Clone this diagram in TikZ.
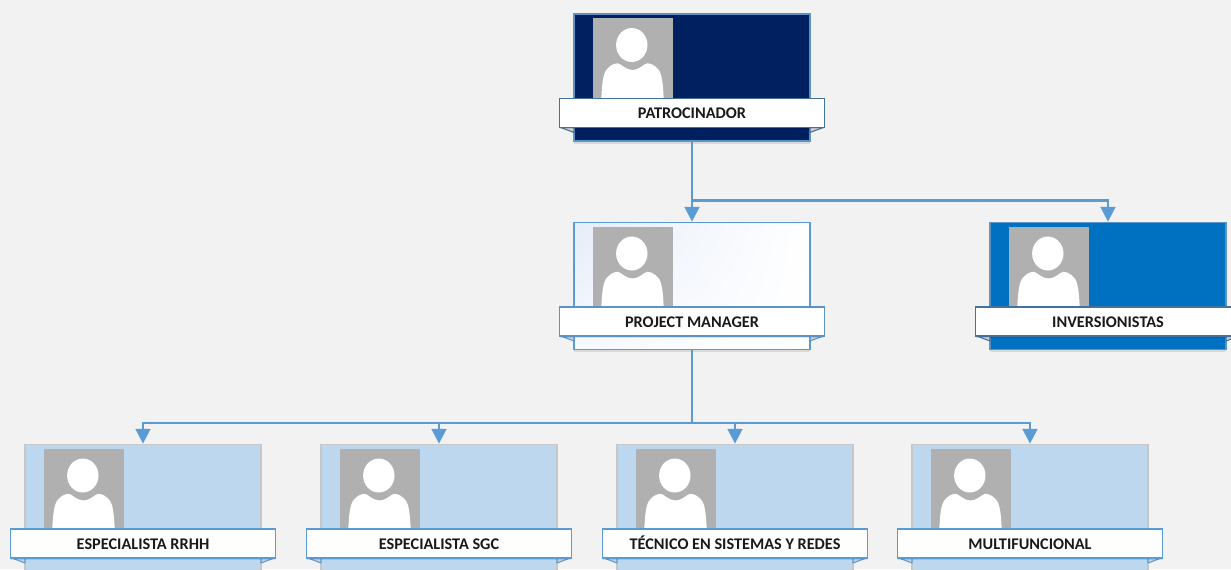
\documentclass[tikz,border=0pt]{standalone}
\usepackage{fontspec}
\setmainfont{Carlito}
\usetikzlibrary{arrows.meta,shadows,shadings}
\definecolor{bg}{HTML}{F2F2F2}
\definecolor{navy}{HTML}{002060}
\definecolor{midblue}{HTML}{0070C0}
\definecolor{paleblue}{HTML}{BDD7EE}
\definecolor{linkblue}{HTML}{5B9BD5}
\definecolor{photogray}{HTML}{B0B0B0}
\definecolor{darkedge}{HTML}{41719C}
\definecolor{softedge}{HTML}{5B93C7}
\definecolor{tailgray}{HTML}{D0D0D0}
\definecolor{tintA}{HTML}{E6EDF9}
\definecolor{tintB}{HTML}{F6F9FE}
\tikzset{
  x=0.75pt,y=-0.75pt,
  cardbox/.style={rectangle,inner sep=0pt,minimum width=177pt,minimum height=95.5pt,line width=1.1pt,
     general shadow={fill=black,opacity=.10,shadow xshift=0pt,shadow yshift=-2pt}},
  navycard/.style={cardbox,fill=navy,draw=softedge},
  bluecard/.style={cardbox,fill=midblue,draw=softedge},
  whitecard/.style={cardbox,draw=linkblue,upper left=tintA,upper right=white,lower left=tintB,lower right=white},
  palecard/.style={cardbox,fill=paleblue,draw=black!22},
  banner/.style={rectangle,inner sep=0pt,minimum width=198.5pt,minimum height=21.5pt,fill=white,line width=1.1pt,
     text height=8.8pt,text depth=0pt,
     font=\fontsize{12.2}{14}\selectfont\bfseries,text=black!90,
     general shadow={fill=black,opacity=.10,shadow xshift=0pt,shadow yshift=-1.5pt}},
  tail/.style={fill=tailgray,line width=.8pt,line join=round},
  link/.style={draw=linkblue,line width=1.9pt},
  linkarrow/.style={link,-{Triangle[length=11pt,width=11pt]}},
  photo/.style={fill=photogray,draw=none}
}
% #1 id, #2 x, #3 y, #4 card style, #5 banner edge colour, #6 label
\newcommand{\personcard}[6]{%
  \begin{scope}[shift={(#2,#3)}]
    \node[#4] (#1) at (118,63.5) {};
    \fill[photo] (19,4) rectangle (99,84.5);
    \fill[white] (57.8,31) ellipse [x radius=15.7,y radius=17];
    \fill[white] (27.3,84.5) .. controls (28,72) and (28.5,60) .. (33,55)
       .. controls (36,51.5) and (40,49.3) .. (44,49.3)
       .. controls (48,50.5) and (52,56) .. (58.5,56)
       .. controls (65,56) and (69,50.5) .. (73,49.3)
       .. controls (77,49.3) and (81,51.5) .. (84,55)
       .. controls (88.5,60) and (89,72) .. (89.7,84.5) -- cycle;
    \draw[tail,draw=#5] (-14.5,113) -- (0,118.5) -- (0,113) -- cycle;
    \draw[tail,draw=#5] (250.5,113) -- (236,118.5) -- (236,113) -- cycle;
    \node[banner,draw=#5] (#1label) at (118,99) {#6};
  \end{scope}}
\begin{document}
\begin{tikzpicture}
  \useasboundingbox (0,0) rectangle (1231,569);
  \clip (0,0) rectangle (1231,569);
  \fill[bg] (0,0) rectangle (1231,569);

  \personcard{pat}{574}{14}{navycard}{darkedge}{PATROCINADOR}
  \personcard{pm}{574}{222.5}{whitecard}{softedge}{PROJECT MANAGER}
  \personcard{inv}{990}{222.5}{bluecard}{darkedge}{INVERSIONISTAS}
  \personcard{rrhh}{25}{444.5}{palecard}{linkblue}{ESPECIALISTA RRHH}
  \personcard{sgc}{321}{444.5}{palecard}{linkblue}{ESPECIALISTA SGC}
  \personcard{tec}{617}{444.5}{palecard}{linkblue}{TÉCNICO EN SISTEMAS Y REDES}
  \personcard{mul}{912}{444.5}{palecard}{linkblue}{MULTIFUNCIONAL}

  \coordinate (splitA) at (692,200.5);
  \coordinate (splitB) at (692,423);
  \draw[linkarrow] (pat.south) -- (pm.north);
  \draw[linkarrow] (splitA) -| (inv.north);
  \draw[link] (pm.south) -- (splitB);
  \draw[linkarrow] (splitB) -| (rrhh.north);
  \draw[linkarrow] (splitB) -| (sgc.north);
  \draw[linkarrow] (splitB) -| (tec.north);
  \draw[linkarrow] (splitB) -| (mul.north);
\end{tikzpicture}
\end{document}
